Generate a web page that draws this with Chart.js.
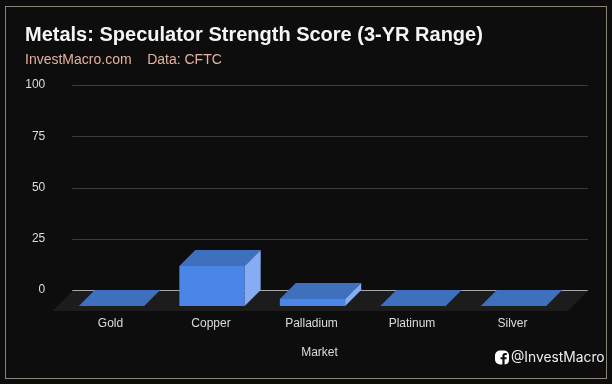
<!DOCTYPE html>
<html lang="en">
<head>
  <meta charset="UTF-8">
  <title>Metals: Speculator Strength Score</title>
  <script src="https://cdn.jsdelivr.net/npm/chart.js"></script>
  <style>
    html, body { margin: 0; padding: 0; background: #0d0d0d; }
    #wrap { position: relative; width: 612px; height: 384px; overflow: hidden; }
    #frame { position: absolute; left: 5px; top: 6px; width: 600px; height: 371px; border: 1px solid #8b8575; pointer-events: none; }
    #handle { position: absolute; left: 495px; top: 349px; display: flex; align-items: center; color: #eee; font: 13.8px Inter, sans-serif; }
    #handle svg { margin-right: 2px; }
  </style>
</head>
<body>
  <div id="wrap">
    <canvas id="metalsChart" width="612" height="384"></canvas>
    <div id="frame"></div>
    <div id="handle">
      <svg width="14" height="15" viewBox="0 0 14 15"><path fill="#fff" d="M5 .5h4a5 5 0 0 1 5 5v4a5 5 0 0 1-4.400 5V9.300h1.800l.3-2.100H9.600V6c0-.7.3-1 1-1h1.200V3.100c-.4 0-1-.1-1.700-.1C8.500 3 7.400 4 7.400 5.800v1.400H5.500v2.100h1.900v5.200H5a5 5 0 0 1-5-5v-4a5 5 0 0 1 5-5z"/></svg>
      <span>@InvestMacro</span>
    </div>
  </div>

  <script>
    const markets = ['Gold', 'Copper', 'Palladium', 'Platinum', 'Silver'];
    const strengthScores = [0, 19.5, 3.4, 0, 0];
    const titleText = 'Metals: Speculator Strength Score (3-YR Range)';
    const subtitleText = 'InvestMacro.com    Data: CFTC';
    const xAxisTitle = 'Market';

    const depth = 16;

    // Gridlines, floor and the 3D faces of the bars
    const threeD = {
      id: 'threeD',
      beforeDatasetsDraw(chart) {
        const ctx = chart.ctx;
        const area = chart.chartArea;
        const yScale = chart.scales.y;
        const zero = yScale.getPixelForValue(0);
        const left = area.left - 5;
        const right = area.right + 8;

        yScale.ticks.forEach(tick => {
          const y = Math.round(yScale.getPixelForValue(tick.value)) + 0.5;
          ctx.strokeStyle = tick.value === 0 ? '#a8a8a8' : '#3d3d3d';
          ctx.lineWidth = 1;
          ctx.beginPath();
          ctx.moveTo(left, y);
          ctx.lineTo(right, y);
          ctx.stroke();
        });

        ctx.fillStyle = '#1c1c1c';
        ctx.beginPath();
        ctx.moveTo(left, zero + 1);
        ctx.lineTo(right, zero + 1);
        ctx.lineTo(right - 20, zero + 21);
        ctx.lineTo(left - 20, zero + 21);
        ctx.closePath();
        ctx.fill();

        // front faces are drawn by the library, moved onto the front plane
        ctx.save();
        ctx.translate(-depth, depth);
      },
      afterDatasetsDraw(chart) {
        const ctx = chart.ctx;
        ctx.restore();
        chart.getDatasetMeta(0).data.forEach(bar => {
          const l = bar.x - bar.width / 2;
          const r = bar.x + bar.width / 2;
          const top = bar.y;
          const base = bar.base;

          ctx.fillStyle = '#3f70bd';
          ctx.beginPath();
          ctx.moveTo(l - depth, top + depth);
          ctx.lineTo(r - depth, top + depth);
          ctx.lineTo(r, top);
          ctx.lineTo(l, top);
          ctx.closePath();
          ctx.fill();

          ctx.fillStyle = '#86acf3';
          ctx.beginPath();
          ctx.moveTo(r - depth, top + depth);
          ctx.lineTo(r, top);
          ctx.lineTo(r, base);
          ctx.lineTo(r - depth, base + depth);
          ctx.closePath();
          ctx.fill();
        });
      },
      afterDraw(chart) {
        const ctx = chart.ctx;
        ctx.fillStyle = '#dddddd';
        ctx.font = '12px "Liberation Sans"';
        ctx.textAlign = 'center';
        ctx.textBaseline = 'middle';
        ctx.fillText(xAxisTitle, 319.5, 352.5);
      }
    };

    new Chart(document.getElementById('metalsChart'), {
      type: 'bar',
      plugins: [threeD],
      data: {
        labels: markets,
        datasets: [{
          label: 'Strength Score',
          data: strengthScores,
          backgroundColor: '#4a86e8',
          borderWidth: 0,
          categoryPercentage: 1,
          barPercentage: 0.65,
          clip: false
        }]
      },
      options: {
        responsive: false,
        animation: false,
        layout: { padding: { left: 25, right: 32.25 } },
        plugins: {
          legend: { display: false },
          tooltip: { enabled: false },
          title: {
            display: true,
            text: titleText,
            align: 'start',
            color: '#f5f5f5',
            font: { family: 'Liberation Sans', size: 20, weight: 'bold' },
            padding: { top: 23, bottom: 0 }
          },
          subtitle: {
            display: true,
            text: subtitleText,
            align: 'start',
            color: '#e6b0a0',
            font: { family: 'Liberation Sans', size: 14 },
            padding: { top: 5, bottom: 16.2 }
          }
        },
        scales: {
          x: {
            grid: { display: false },
            border: { display: false },
            ticks: { color: '#dddddd', font: { family: 'Liberation Sans', size: 12 }, padding: 18, labelOffset: -17, maxRotation: 0 },
            afterFit(scale) { scale.height = 94; }
          },
          y: {
            min: 0,
            max: 100,
            grid: { display: false },
            border: { display: false },
            ticks: { stepSize: 25, color: '#dddddd', font: { family: 'Liberation Sans', size: 12 }, padding: 24 },
            afterFit(scale) { scale.width = 52.25; }
          }
        }
      }
    });
  </script>
</body>
</html>
